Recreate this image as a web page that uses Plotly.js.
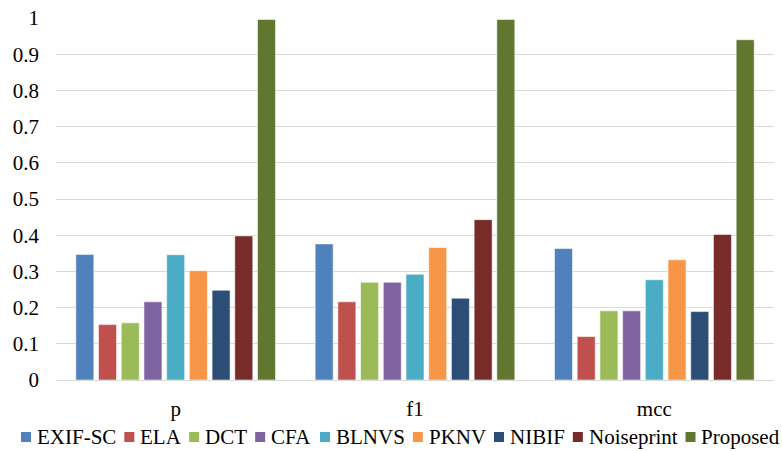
<!DOCTYPE html>
<html>
<head>
<meta charset="utf-8">
<script src="https://cdn.plot.ly/plotly-3.0.1.min.js"></script>
<style>
  html, body { margin: 0; padding: 0; background: #fff; }
  #chart { width: 782px; height: 451px; }
  /* primes the serif face in the HTML layer before the SVG is built */
  #fontprime { position: absolute; left: -9999px; top: 0; font: 21px "Times New Roman", "Liberation Serif", serif; white-space: nowrap; }
</style>
</head>
<body>
<div id="fontprime">p f1 mcc 0.1 EXIF-SC ELA DCT CFA BLNVS PKNV NIBIF Noiseprint Proposed</div>
<div id="chart"></div>
<script>
// Metric groups along the x axis
const metrics = ['p', 'f1', 'mcc'];

// Method names (legend order)
const methods = ['EXIF-SC', 'ELA', 'DCT', 'CFA', 'BLNVS', 'PKNV', 'NIBIF', 'Noiseprint', 'Proposed'];

// Scores per method for [p, f1, mcc]
const exifSC     = [0.347, 0.376, 0.363];
const ela        = [0.153, 0.216, 0.120];
const dct        = [0.158, 0.270, 0.191];
const cfa        = [0.216, 0.270, 0.191];
const blnvs      = [0.346, 0.292, 0.277];
const pknv       = [0.302, 0.366, 0.332];
const nibif      = [0.248, 0.226, 0.189];
const noiseprint = [0.398, 0.443, 0.402];
const proposed   = [0.996, 0.996, 0.940];

// Y axis ticks
const yTickVals = [0, 0.1, 0.2, 0.3, 0.4, 0.5, 0.6, 0.7, 0.8, 0.9, 1];
const yTickText = ['0', '0.1', '0.2', '0.3', '0.4', '0.5', '0.6', '0.7', '0.8', '0.9', '1'];

const seriesValues = [exifSC, ela, dct, cfa, blnvs, pknv, nibif, noiseprint, proposed];
const colors = ['#4F81BD', '#C0504D', '#9BBB59', '#8064A2', '#4BACC6', '#F79646', '#2C4D75', '#772C2A', '#61762F'];

const FONT = 'Times New Roman';
const FONT_SIZE = 21;
const W = 782, H = 451;
const M = { l: 56, r: 8, t: 18, b: 71 };

const traces = methods.map((name, i) => ({
  type: 'bar',
  name: name,
  x: metrics,
  y: seriesValues[i],
  marker: { color: colors[i], line: { color: 'rgba(255,255,255,0.55)', width: 1 } },
  hoverinfo: 'x+y+name'
}));

// Compact legend row under the axis: square swatch + label per method.
// Label advance widths (in em) for the serif face, used to space the entries.
const labelWidthEm = [3.778, 1.944, 2.0, 1.945, 3.278, 2.722, 2.611, 4.222, 3.722];
const swatch = 10, swatchGap = 5, entryGap = 9;
const legendY = 437;
let xPos = 21;
const shapes = [];
const annotations = [];
const pw = W - M.l - M.r, ph = H - M.t - M.b;
const toPX = px => (px - M.l) / pw;
const toPY = py => (H - M.b - py) / ph;
methods.forEach((name, i) => {
  shapes.push({
    type: 'rect', xref: 'paper', yref: 'paper',
    x0: toPX(xPos), x1: toPX(xPos + swatch),
    y0: toPY(legendY + swatch / 2), y1: toPY(legendY - swatch / 2),
    fillcolor: colors[i], line: { width: 0 }
  });
  const tx = xPos + swatch + swatchGap;
  annotations.push({
    xref: 'paper', yref: 'paper', x: toPX(tx), y: toPY(legendY),
    xanchor: 'left', yanchor: 'middle', showarrow: false,
    text: name, font: { family: FONT, size: FONT_SIZE, color: '#000' },
    borderpad: 0
  });
  xPos = tx + labelWidthEm[i] * FONT_SIZE + entryGap;
});

const layout = {
  width: W, height: H,
  margin: M,
  paper_bgcolor: '#fff', plot_bgcolor: '#fff',
  showlegend: false,
  barmode: 'group',
  bargap: 0.146,
  bargroupgap: 0.207,
  font: { family: FONT, size: FONT_SIZE, color: '#000' },
  xaxis: {
    type: 'category',
    showgrid: false, zeroline: false, showline: false,
    ticks: '', ticklabelstandoff: 14,
    tickfont: { family: FONT, size: FONT_SIZE, color: '#000' }
  },
  yaxis: {
    range: [0, 1], autorange: false,
    tickvals: yTickVals, ticktext: yTickText,
    showgrid: true, gridcolor: '#D9D9D9', gridwidth: 1.3,
    zeroline: true, zerolinecolor: '#D9D9D9', zerolinewidth: 1.3,
    showline: false, ticks: '', ticklabelstandoff: 16,
    tickfont: { family: FONT, size: FONT_SIZE, color: '#000' }
  },
  shapes: shapes,
  annotations: annotations
};

Plotly.newPlot('chart', traces, layout, { displayModeBar: false });
</script>
</body>
</html>
